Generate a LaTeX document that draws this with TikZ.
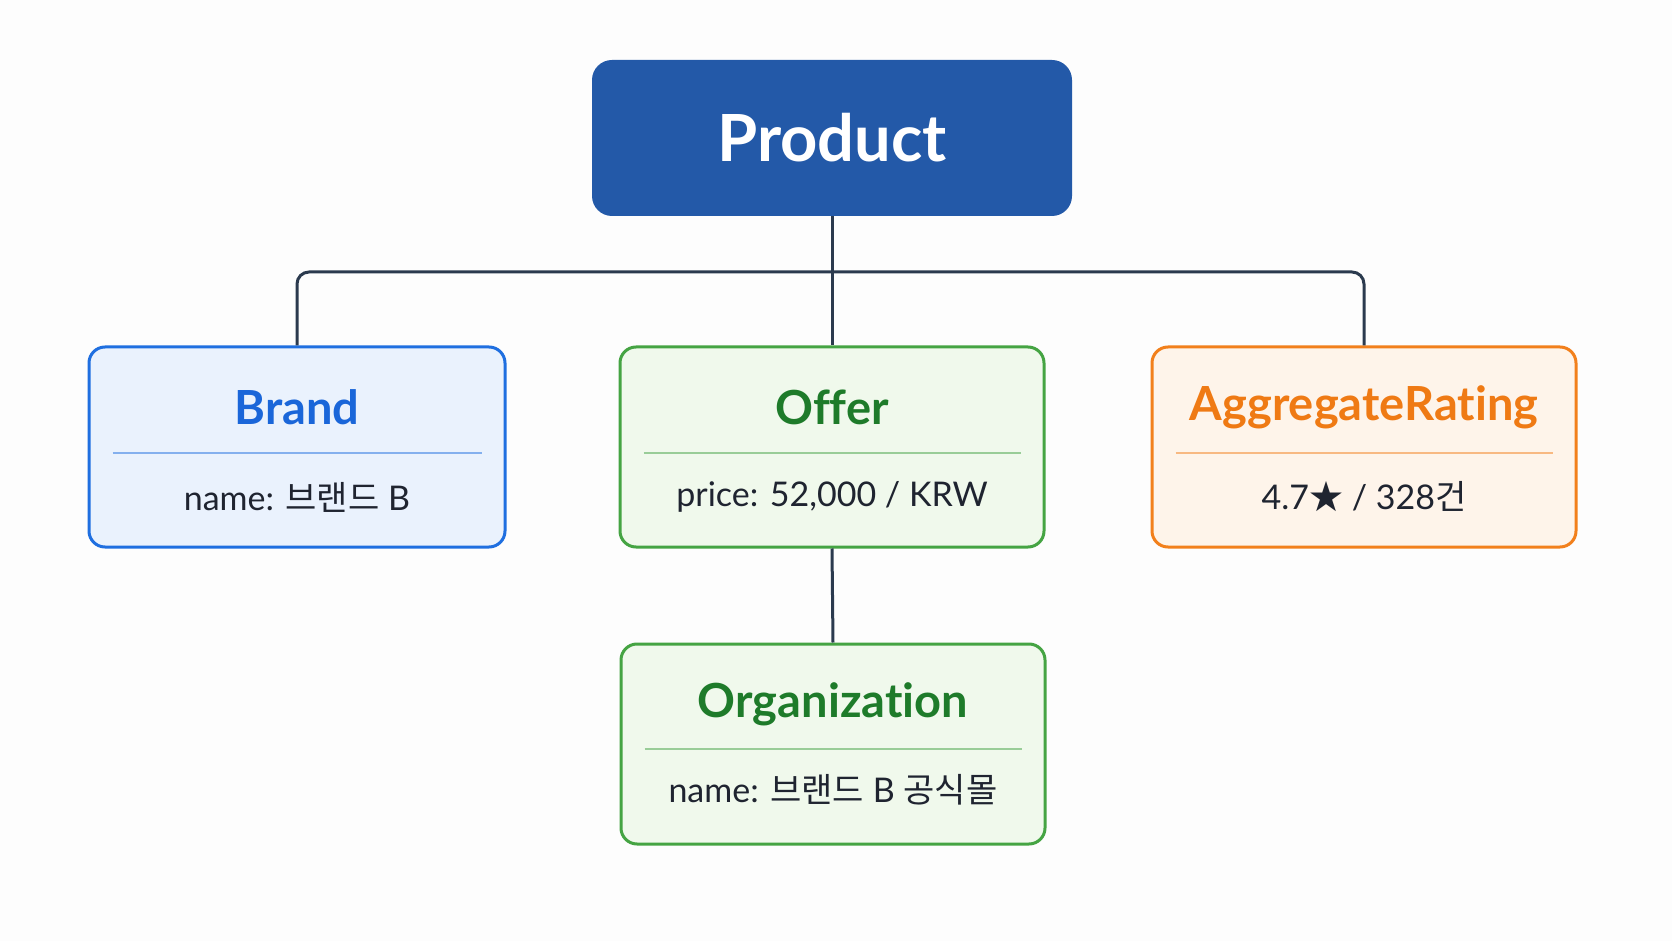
\documentclass[tikz,border=0pt]{standalone}
\usepackage{fontspec}
\setmainfont{Lato}[Ligatures=NoCommon]
\newfontfamily\cjk{Noto Sans CJK KR}
\usetikzlibrary{positioning,calc}
\definecolor{pagebg}{HTML}{FDFDFD}
\definecolor{headfill}{HTML}{2359A8}
\definecolor{linkcol}{HTML}{2B3A4E}
\definecolor{bodytext}{HTML}{1F2430}
\definecolor{blueline}{HTML}{1F6FE0}
\definecolor{bluefill}{HTML}{EAF2FD}
\definecolor{bluetext}{HTML}{1A66D9}
\definecolor{greenline}{HTML}{45A443}
\definecolor{greenfill}{HTML}{F0F9EC}
\definecolor{greentext}{HTML}{1E7B2A}
\definecolor{orangeline}{HTML}{F2801C}
\definecolor{orangefill}{HTML}{FEF4EA}
\definecolor{orangetext}{HTML}{EF7A14}

\begin{document}
\begin{tikzpicture}[x=0.5pt, y=-0.5pt,
  headbox/.style={rounded corners=10pt, minimum width=240pt, minimum height=78pt, fill=headfill, text=white, font=\fontsize{32.5}{38}\selectfont\bfseries},
  classbox/.style={draw=#1line, fill=#1fill, line width=1.5pt, rounded corners=8pt, minimum width=212pt, minimum height=100pt},
  classtitle/.style={text=#1text, font=\fontsize{23.5}{28}\selectfont\bfseries},
  classbody/.style={text=bodytext, font=\fontsize{17}{20}\selectfont},
  link/.style={draw=linkcol, line width=1.5pt},
  divider/.style={draw=#1line!55, line width=0.8pt}
]
  \fill[pagebg] (0,0) rectangle (1672,941);

  \node[headbox] (product) at (832,138) {Product};

  \node[classbox=blue, minimum width=208pt] (brand) at (297,447) {};
  \node[classbox=green] (offer) at (832,447) {};
  \node[classbox=orange] (rating) at (1364,447) {};
  \node[classbox=green] (org) at (833,744) {};

  \node[classtitle=blue, above=20pt of brand.center, anchor=center] (brandT) {Brand};
  \node[classbody, below=25pt of brand.center, anchor=center] (brandB) {name: {\cjk 브랜드} B};
  \node[classtitle=green, above=20pt of offer.center, anchor=center] (offerT) {Offer};
  \node[classbody, below=25pt of offer.center, anchor=center] (offerB) {price: 52,000 / KRW};
  \node[classtitle=orange, above=20pt of rating.center, anchor=center] (ratingT) {AggregateRating};
  \node[classbody, below=25pt of rating.center, anchor=center] (ratingB) {4.7{\cjk ★} / 328{\cjk 건}};
  \node[classtitle=green, above=20pt of org.center, anchor=center] (orgT) {Organization};
  \node[classbody, below=23pt of org.center, anchor=center] (orgB) {name: {\cjk 브랜드} B {\cjk 공식몰}};

  % dividers
  \draw[divider=blue] ($(brand.west)+(25,6)$) -- ($(brand.east)+(-25,6)$);
  \draw[divider=green] ($(offer.west)+(25,6)$) -- ($(offer.east)+(-25,6)$);
  \draw[divider=orange] ($(rating.west)+(25,6)$) -- ($(rating.east)+(-25,6)$);
  \draw[divider=green] ($(org.west)+(25,5)$) -- ($(org.east)+(-25,5)$);

  % connectors
  \coordinate (bus) at (832,272);
  \draw[link, rounded corners=6pt] (brand.north) |- (bus) -| (rating.north);
  \draw[link] (product.south) -- (offer.north);
  \draw[link] (offer.south) -- (org.north);
\end{tikzpicture}
\end{document}
